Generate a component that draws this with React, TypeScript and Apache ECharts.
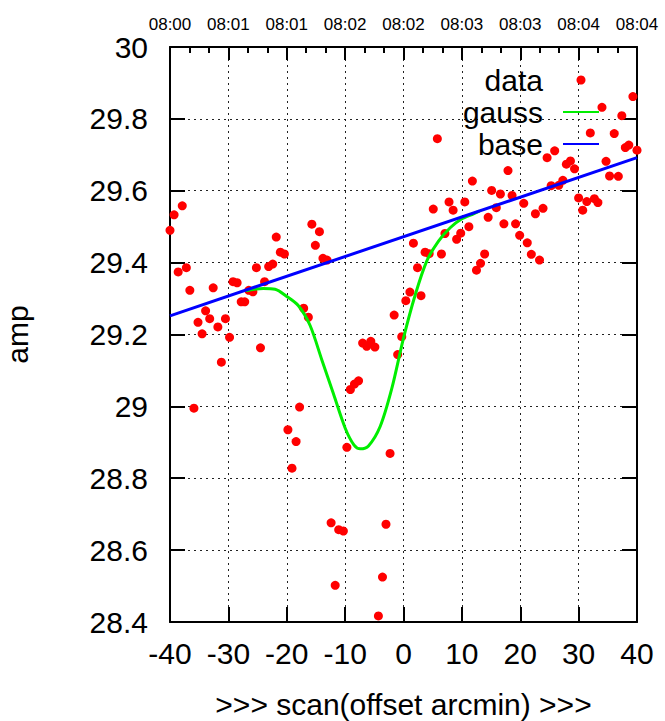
import React, { useEffect, useRef } from "react";
import * as echarts from "echarts";

const scanX = [
  -40.0, -39.3, -38.6, -37.9, -37.2, -36.6, -35.9, -35.2, -34.5, -33.9, -33.2, -32.6, -31.8, -31.2, -30.5, -29.8,
  -29.2, -28.5, -27.8, -27.2, -26.5, -25.8, -25.2, -24.5, -23.8, -23.1, -22.4, -21.8, -21.1, -20.4, -19.8, -19.1,
  -18.4, -17.8, -17.1, -16.3, -15.7, -15.1, -14.4, -13.8, -13.1, -12.4, -11.7, -11.1, -10.3, -9.7, -9.1, -8.4,
  -7.7, -7.0, -6.3, -5.6, -4.9, -4.3, -3.6, -3.0, -2.3, -1.6, -1.0, -0.3, 0.4, 1.1, 1.7, 2.4, 3.0, 3.7, 4.4, 5.1,
  5.8, 6.5, 7.1, 7.8, 8.5, 9.1, 9.8, 10.5, 11.2, 11.8, 12.5, 13.2, 13.9, 14.5, 15.1, 15.9, 16.6, 17.2, 17.9, 18.6,
  19.2, 19.9, 20.6, 21.2, 21.9, 22.6, 23.3, 23.9, 24.6, 25.3, 25.9, 26.6, 27.3, 27.9, 28.6, 29.3, 30.0, 30.7, 31.4,
  32.0, 32.7, 33.3, 34.0, 34.7, 35.3, 36.1, 36.8, 37.4, 38.0, 38.6, 39.3, 40.0,
];
const ampY = [
  29.490, 29.533, 29.374, 29.558, 29.386, 29.323, 28.995, 29.234, 29.202, 29.266, 29.244, 29.330, 29.221, 29.123, 29.244, 29.192,
  29.347, 29.344, 29.291, 29.291, 29.323, 29.319, 29.386, 29.163, 29.347, 29.389, 29.396, 29.471, 29.429, 29.424, 28.935, 28.828,
  28.902, 28.998, 29.273, 29.248, 29.507, 29.448, 29.486, 29.412, 29.407, 28.676, 28.502, 28.657, 28.653, 28.886, 29.047, 29.062,
  29.071, 29.176, 29.167, 29.181, 29.165, 28.417, 28.525, 28.672, 28.869, 29.254, 29.144, 29.194, 29.294, 29.318, 29.454, 29.386, 29.308, 29.429, 29.425, 29.549,
  29.745, 29.424, 29.481, 29.569, 29.546, 29.465, 29.482, 29.569, 29.500, 29.627, 29.379, 29.398, 29.424, 29.526, 29.601, 29.553, 29.591, 29.508, 29.656, 29.587,
  29.508, 29.476, 29.565, 29.455, 29.423, 29.536, 29.407, 29.551, 29.692, 29.614, 29.711, 29.615, 29.629, 29.674, 29.683, 29.661, 29.580, 29.546, 29.570,
  29.761, 29.578, 29.567, 29.832, 29.682, 29.641, 29.759, 29.640, 29.809, 29.720, 29.727, 29.862, 29.713,
];

const gaussX = [-27, -24, -22, -20, -18, -16, -14, -12, -10, -8.5, -7.4, -6, -4, -2, 0, 2, 4, 6, 8, 10, 12, 13];
const gaussY = [
  29.322, 29.328, 29.326, 29.306, 29.28, 29.225, 29.13, 29.035, 28.94, 28.893, 28.882, 28.89, 28.944, 29.05, 29.19,
  29.31, 29.405, 29.46, 29.497, 29.522, 29.536, 29.543,
];

const baseX = [-40, 40];
const baseY = [29.252, 29.692];

const xTickLabels = ["-40", "-30", "-20", "-10", "0", "10", "20", "30", "40"];
const topTickLabels = ["08:00", "08:01", "08:01", "08:02", "08:02", "08:03", "08:03", "08:04", "08:04"];
const yTickLabels = ["28.4", "28.6", "28.8", "29", "29.2", "29.4", "29.6", "29.8", "30"];

const FONT = "Liberation Sans, Arial, sans-serif";

export default function App() {
  const ref = useRef<HTMLDivElement>(null);
  useEffect(() => {
    if (!ref.current) return;
    const chart = echarts.init(ref.current, undefined, { renderer: "svg" });
    const xIdx = (v: number) => Math.round((v + 40) / 10);
    const yIdx = (v: number) => Math.round((v - 28.4) / 0.2);
    const dotted = { color: "#222", width: 1, type: [2, 4] as any };
    chart.setOption({
      animation: false,
      backgroundColor: "#fff",
      textStyle: { fontFamily: FONT },
      grid: { left: 170, right: 28, top: 47, bottom: 99, outerBoundsMode: "none", containLabel: false },
      legend: {
        data: [
          { name: "data" },
          { name: "gauss", itemStyle: { opacity: 0 } },
          { name: "base", itemStyle: { opacity: 0 } },
        ],
        orient: "vertical",
        align: "right",
        right: 65,
        top: 64,
        padding: 0,
        itemGap: 0,
        itemWidth: 36,
        itemHeight: 9,
        selectedMode: false,
        textStyle: { fontSize: 30, color: "#000", fontFamily: FONT, lineHeight: 32, padding: [0, 15, 0, 0] },
      },
      xAxis: [
        {
          type: "value",
          min: -40,
          max: 40,
          interval: 10,
          position: "bottom",
          axisLine: { show: true, onZero: false, lineStyle: { color: "#000", width: 2 } },
          axisTick: { show: true, inside: true, length: 15, lineStyle: { color: "#000", width: 2 } },
          axisLabel: {
            fontSize: 30,
            color: "#000",
            fontFamily: FONT,
            margin: 16,
            formatter: (v: number) => xTickLabels[xIdx(v)] ?? "",
          },
          splitLine: { show: true, lineStyle: dotted },
          name: ">>> scan(offset arcmin) >>>",
          nameLocation: "middle",
          nameGap: 68,
          nameTextStyle: { fontSize: 30, color: "#000", fontFamily: FONT, lineHeight: 28 },
        },
        {
          type: "value",
          min: -40,
          max: 40,
          interval: 10,
          position: "top",
          axisLine: { show: true, onZero: false, lineStyle: { color: "#000", width: 2 } },
          axisTick: { show: true, inside: true, length: 13, lineStyle: { color: "#000", width: 2 } },
          minorTick: { show: true, splitNumber: 3, length: 6, lineStyle: { color: "#000", width: 2 } },
          axisLabel: {
            fontSize: 17,
            color: "#000",
            fontFamily: FONT,
            margin: 14,
            formatter: (v: number) => topTickLabels[xIdx(v)] ?? "",
          },
          splitLine: { show: false },
        },
      ],
      yAxis: [
        {
          type: "value",
          min: 28.4,
          max: 30,
          interval: 0.2,
          position: "left",
          axisLine: { show: true, onZero: false, lineStyle: { color: "#000", width: 2 } },
          axisTick: { show: true, inside: true, length: 15, lineStyle: { color: "#000", width: 2 } },
          axisLabel: {
            fontSize: 30,
            color: "#000",
            fontFamily: FONT,
            margin: 22,
            formatter: (v: number) => yTickLabels[yIdx(v)] ?? "",
          },
          splitLine: { show: true, lineStyle: dotted },
          name: "amp",
          nameLocation: "middle",
          nameGap: 138,
          nameRotate: 90,
          nameTextStyle: { fontSize: 30, color: "#000", fontFamily: FONT },
        },
        {
          type: "value",
          min: 28.4,
          max: 30,
          interval: 0.2,
          position: "right",
          axisLine: { show: true, onZero: false, lineStyle: { color: "#000", width: 2 } },
          axisTick: { show: true, inside: true, length: 15, lineStyle: { color: "#000", width: 2 } },
          axisLabel: { show: false },
          splitLine: { show: false },
        },
      ],
      series: [
        {
          name: "data",
          type: "scatter",
          symbol: "circle",
          symbolSize: 9,
          itemStyle: { color: "#ff0000", opacity: 1 },
          data: scanX.map((x, i) => [x, ampY[i]]),
          z: 2,
        },
        {
          name: "gauss",
          type: "line",
          symbol: "none",
          showSymbol: false,
          smooth: 0.3,
          lineStyle: { color: "#00ee00", width: 3 },
          itemStyle: { color: "#00ee00" },
          data: gaussX.map((x, i) => [x, gaussY[i]]),
          z: 3,
        },
        {
          name: "base",
          type: "line",
          symbol: "none",
          showSymbol: false,
          lineStyle: { color: "#0000ff", width: 3 },
          itemStyle: { color: "#0000ff" },
          data: baseX.map((x, i) => [x, baseY[i]]),
          z: 4,
        },
      ],
    });
    return () => chart.dispose();
  }, []);
  return (
    <div
      ref={ref}
      style={{ position: "fixed", left: 0, top: 0, width: 665, height: 721, background: "#fff" }}
    />
  );
}
